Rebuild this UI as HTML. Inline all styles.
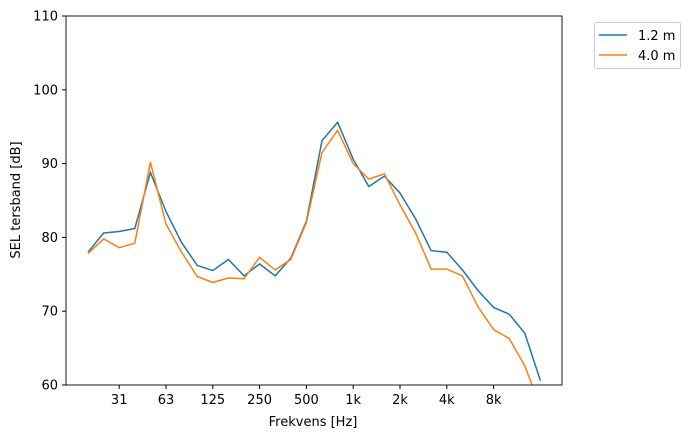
<!DOCTYPE html>
<html><head><style>body{margin:0;background:#fff}svg{display:block}text{font-family:"DejaVu Sans","Liberation Sans",sans-serif;font-size:13px;fill:#000}</style></head>
<body>
<svg id="s" width="693" height="438" xmlns="http://www.w3.org/2000/svg">
<defs><clipPath id="c"><rect x="66" y="16" width="496" height="369"/></clipPath></defs>
<g id="grid"></g>
<path id="b" fill="none" stroke="#1f77b4" stroke-width="1.5" clip-path="url(#c)"/>
<path id="o" fill="none" stroke="#ff7f0e" stroke-width="1.5" clip-path="url(#c)"/>
<rect x="66" y="16" width="496" height="369" fill="none" stroke="#000" stroke-width="0.9"/>
<text x="313" y="426" text-anchor="middle">Frekvens [Hz]</text>
<text transform="translate(20,200) rotate(-90)" text-anchor="middle">SEL tersband [dB]</text>
<rect x="594.5" y="22.5" width="86" height="46" rx="2" fill="#fff" stroke="#ccc"/>
<line x1="599" y1="35" x2="627" y2="35" stroke="#1f77b4" stroke-width="1.5"/>
<text x="638" y="40">1.2 m</text>
<line x1="599" y1="55" x2="627" y2="55" stroke="#ff7f0e" stroke-width="1.5"/>
<text x="638" y="60">4.0 m</text>
</svg>
<script>
var B=[78.0,80.6,80.8,81.2,88.8,83.5,79.3,76.2,75.5,77.0,74.8,76.4,74.8,77.2,82.2,93.1,95.6,90.6,86.9,88.3,86.0,82.5,78.2,78.0,75.6,72.8,70.5,69.6,67.0,60.6];
var O=[77.8,79.8,78.6,79.2,90.2,81.8,78.0,74.7,73.9,74.5,74.4,77.3,75.6,77.0,82.0,91.5,94.5,90.0,87.9,88.6,84.4,80.6,75.7,75.7,74.8,70.6,67.5,66.3,62.6,57.0];
function X(i){return 88+i*15.6}function Y(v){return 385-(v-60)*7.38}
function p(a){return a.map(function(v,i){return (i?'L':'M')+X(i).toFixed(1)+','+Y(v).toFixed(1)}).join('')}
document.getElementById('b').setAttribute('d',p(B));
document.getElementById('o').setAttribute('d',p(O));
var g='';
[60,70,80,90,100,110].forEach(function(v){var y=Y(v);g+='<line x1="62" y1="'+y+'" x2="66" y2="'+y+'" stroke="#000"/><text x="58" y="'+(y+4.5)+'" text-anchor="end">'+v+'</text>'});
['31','63','125','250','500','1k','2k','4k','8k'].forEach(function(t,k){var x=X(2+3*k);g+='<line x1="'+x+'" y1="385" x2="'+x+'" y2="389" stroke="#000"/><text x="'+x+'" y="404" text-anchor="middle">'+t+'</text>'});
document.getElementById('grid').innerHTML=g;
</script>
</body></html>
